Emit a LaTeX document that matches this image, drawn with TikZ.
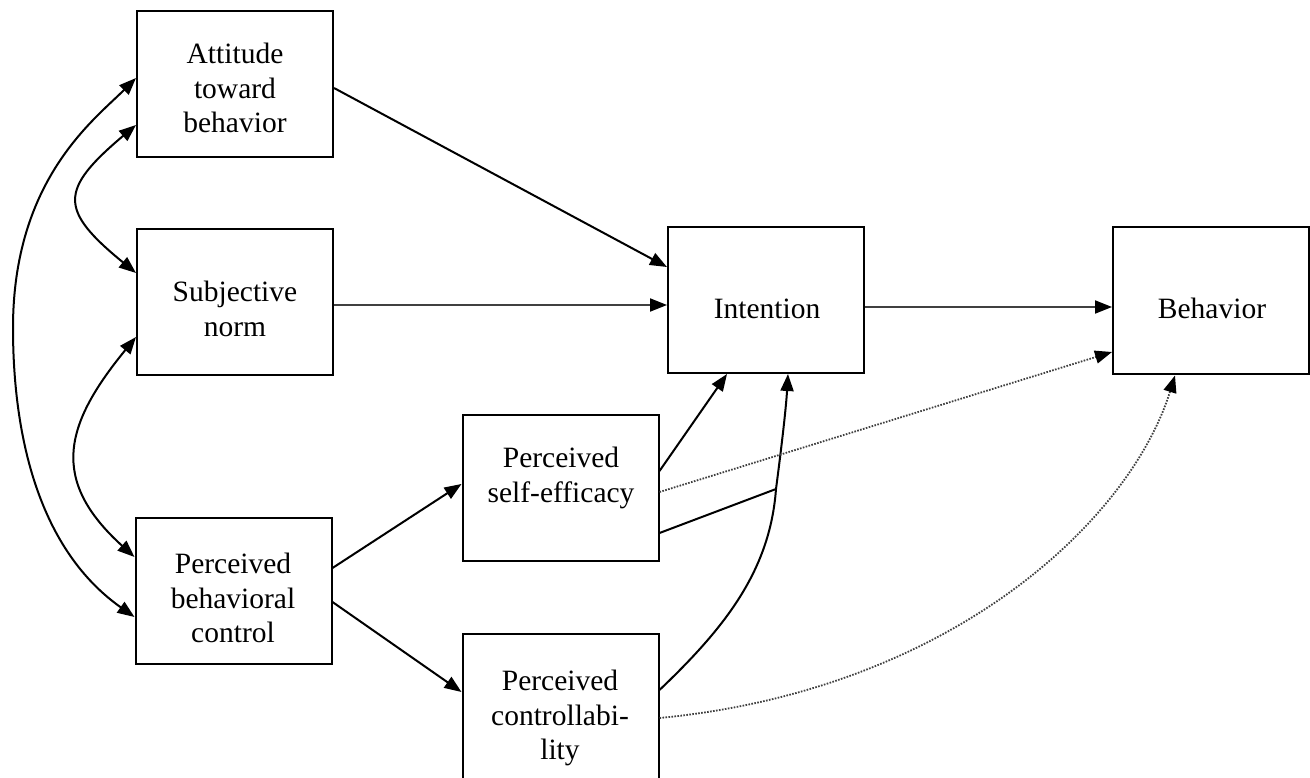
\documentclass[tikz,border=0pt]{standalone}
\usepackage{fontspec}
\setmainfont{Liberation Serif}
\usetikzlibrary{arrows.meta,calc}
\begin{document}
\begin{tikzpicture}[x=1pt,y=-1pt,
  box/.style={draw, line width=2pt, minimum width=196pt, minimum height=146pt, inner sep=0pt},
  lbl/.style={align=center, inner sep=0pt, font=\fontsize{29.5}{34.5}\selectfont,
              execute at begin node=\strut, execute at end node=\strut},
  tip/.style={-{Triangle[length=17pt,width=13pt,color=black]}},
  arr/.style={tip, line width=2pt, black},
  harr/.style={tip, line width=2pt, black!75},
  darr/.style={{Triangle[length=17pt,width=13pt]}-{Triangle[length=17pt,width=13pt]}, line width=2pt},
  dotarr/.style={tip, line width=1.8pt, black!75, dash pattern=on 1.6pt off 1.4pt}]
\useasboundingbox (0,0) rectangle (1310,778);
\fill[white] (0,0) rectangle (1310,778);
\clip (0,0) rectangle (1310,778);

% boxes
\node[box] (att)  at (235,84) {};
\node[box] (subj) at (235,302) {};
\node[box] (pbc)  at (233.5,591) {};
\node[box] (self) at (560.5,488) {};
\node[box] (ctrl) at (560.5,707) {};
\node[box] (int)  at (766,300) {};
\node[box] (beh)  at (1211,300.5) {};

% labels
\node[lbl] (attT)  at (235,93) {Attitude\\toward\\behavior};
\node[lbl] (subjT) at (235,314) {Subjective\\norm};
\node[lbl] (pbcT)  at (233,603) {Perceived\\behavioral\\control};
\node[lbl] (selfT) at (561,480) {Perceived\\self-efficacy};
\node[lbl] (ctrlT) at (560,720) {Perceived\\controllabi-\\lity};
\node[lbl] (intT)  at (767,312) {Intention};
\node[lbl] (behT)  at (1212,312) {Behavior};

% straight connectors
\draw[arr] ($(att.east)+(0,4)$) -- ($(int.west)+(0,-33)$);
\draw[harr] ($(subj.east)+(0,3)$) -- ($(int.west)+(0,5)$);
\draw[harr] ($(int.east)+(0,7)$) -- ($(beh.west)+(0,6.5)$);
\draw[arr] ($(pbc.east)+(0,-23)$) -- ($(self.west)+(0,-4)$);
\draw[arr] ($(pbc.east)+(0,11)$) -- ($(ctrl.west)+(0,-15)$);
\draw[arr] ($(self.east)+(0,-17)$) -- ($(int.south)+(-39,0)$);

% controllability -> intention (curved), joined by self-efficacy
\coordinate (cs) at ($(ctrl.east)+(0,-17)$);
\coordinate (j)  at ($(int.south)+(10,115)$);
\coordinate (ie) at ($(int.south)+(22,0)$);
\draw[arr] (cs) .. controls ($(cs)+(65,-62)$) and ($(j)+(-6,82)$) .. (j)
               .. controls ($(j)+(5,-38)$) and ($(ie)+(-2,35)$) .. (ie);
\draw[line width=2pt] ($(self.east)+(0,45)$) -- (j);

% dotted connectors to behavior
\draw[dotarr] ($(self.east)+(0,4)$) -- ($(beh.west)+(0,51.5)$);
\coordinate (d0) at ($(ctrl.east)+(0,11)$);
\coordinate (d1) at ($(beh.south)+(-36,1)$);
\draw[dotarr] (d0) .. controls ($(d0)+(292,-28)$) and ($(d1)+(-45,145)$) .. (d1);

% left correlations
\coordinate (a0) at ($(att.west)+(0,-6)$);
\coordinate (p0) at ($(pbc.west)+(0,26)$);
\draw[darr] (a0) .. controls ($(a0)+(-42,42)$) and ($(a0)+(-123,102)$) .. ($(a0)+(-123,250)$)
                 .. controls ($(a0)+(-123,360)$) and ($(p0)+(-95,-67)$) .. (p0);
\coordinate (b0) at ($(att.west)+(0,41)$);
\coordinate (b1) at ($(subj.west)+(0,-29)$);
\draw[darr] (b0) .. controls ($(b0)+(-77,65)$) and ($(b1)+(-77,-63)$) .. (b1);
\coordinate (c0) at ($(subj.west)+(0,35)$);
\coordinate (c1) at ($(pbc.west)+(0,-34)$);
\draw[darr] (c0) .. controls ($(c0)+(-72,88)$) and ($(c1)+(-85,-77)$) .. (c1);
\end{tikzpicture}
\end{document}
